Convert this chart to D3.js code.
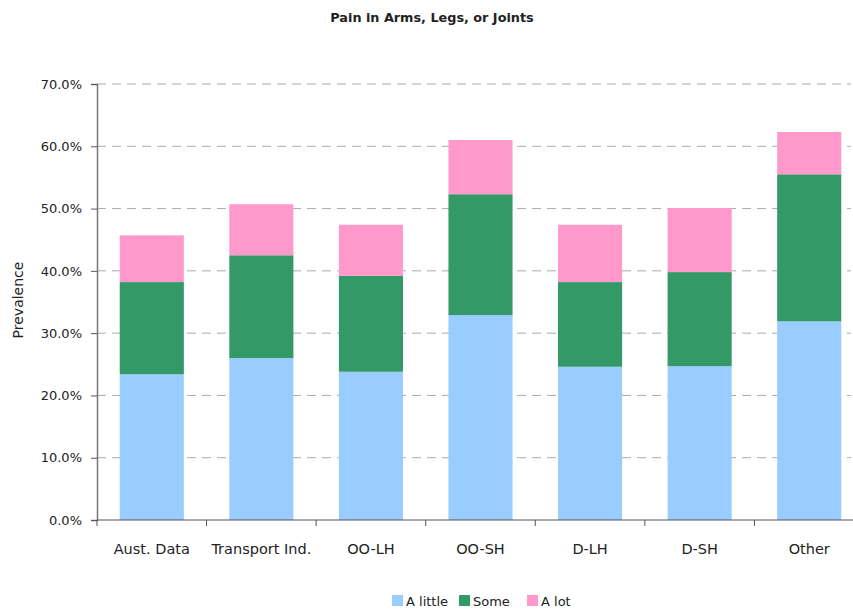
<!DOCTYPE html>
<html><head><meta charset="utf-8">
<script src="https://cdn.jsdelivr.net/npm/d3@7"></script>
<style>body{margin:0;background:#fff}svg{display:block}text{font-family:"DejaVu Sans",sans-serif;fill:#222}</style>
</head><body><svg id="c" width="853" height="610"></svg>
<script>
const categories = ["Aust. Data","Transport Ind.","OO-LH","OO-SH","D-LH","D-SH","Other"];
const seriesNames = ["A little","Some","A lot"];
const aLittle = [23.4, 26.0, 23.8, 32.9, 24.6, 24.7, 31.9];
const some    = [14.8, 16.5, 15.4, 19.4, 13.6, 15.1, 23.6];
const aLot    = [7.5, 8.2, 8.2, 8.7, 9.2, 10.3, 6.8];
const yTicks = [0,10,20,30,40,50,60,70];
const colors = ["#99ccff","#339966","#ff99cc"];

const svg = d3.select("#c");
const x = d3.scaleBand().domain(categories).range([97, 864]).paddingInner(0.415).paddingOuter(0.2075);
const y = d3.scaleLinear().domain([0,70]).range([520, 84]);

const data = categories.map((c,i)=>({cat:c, "A little":aLittle[i], "Some":some[i], "A lot":aLot[i]}));
const stack = d3.stack().keys(seriesNames)(data);

// gridlines
svg.append("g").selectAll("line").data(yTicks.filter(d=>d>0)).join("line")
  .attr("x1",97).attr("x2",851).attr("y1",d=>y(d)).attr("y2",d=>y(d))
  .attr("stroke","#aaa").attr("stroke-width",1).attr("stroke-dasharray","9,6");

// bars
svg.append("g").selectAll("g").data(stack).join("g").attr("fill",(d,i)=>colors[i])
  .selectAll("rect").data(d=>d).join("rect")
  .attr("x",d=>x(d.data.cat)).attr("width",x.bandwidth())
  .attr("y",d=>y(d[1])).attr("height",d=>y(d[0])-y(d[1]));

// y axis
const ya = svg.append("g").attr("transform","translate(97,0)")
  .call(d3.axisLeft(y).tickValues(yTicks).tickFormat(d=>d.toFixed(1)+"%").tickSize(6).tickPadding(9));
ya.select(".domain").attr("stroke","#777").attr("stroke-width",1.5);
ya.selectAll(".tick line").attr("stroke","#555");
ya.selectAll("text").style("font-size","13px").style("font-family","DejaVu Sans").attr("fill","#222");

// x axis
const xa = svg.append("g").attr("transform","translate(0,520)");
xa.append("line").attr("x1",97).attr("x2",853).attr("y1",0).attr("y2",0).attr("stroke","#555").attr("stroke-width",1);
const bounds = categories.map(c=>x(c) - x.step()*x.paddingInner()/2);
xa.selectAll("line.t").data(bounds).join("line").attr("class","t")
  .attr("x1",d=>d).attr("x2",d=>d).attr("y1",0).attr("y2",6).attr("stroke","#555");
xa.selectAll("text").data(categories).join("text")
  .attr("x",d=>x(d)+x.bandwidth()/2).attr("y",34).attr("text-anchor","middle")
  .style("font-size","14.5px").text(d=>d);

// title
svg.append("text").attr("x",432).attr("y",22).attr("text-anchor","middle")
  .style("font-size","12.8px").style("font-weight","bold").text("Pain in Arms, Legs, or Joints");

// y label
svg.append("text").attr("transform","translate(23,300) rotate(-90)").attr("text-anchor","middle")
  .style("font-size","14px").text("Prevalence");

// legend
const lg = svg.append("g");
const lx = [392, 459, 527];
seriesNames.forEach((s,i)=>{
  lg.append("rect").attr("x",lx[i]).attr("y",595).attr("width",11).attr("height",11).attr("fill",colors[i]);
  lg.append("text").attr("x",lx[i]+14).attr("y",606).style("font-size","13px").text(s);
});
</script></body></html>
